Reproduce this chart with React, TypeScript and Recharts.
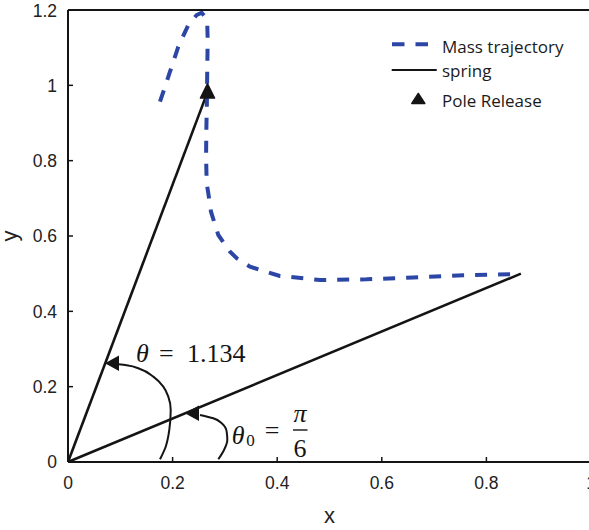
import React from 'react'
import { ComposedChart, Line, Scatter, XAxis, YAxis, Legend } from 'recharts'

// mass trajectory (x, y)
const trajX = [0.1759, 0.1950, 0.2109, 0.2300, 0.2461, 0.2556, 0.2620, 0.2663, 0.2671, 0.2663, 0.2655, 0.2645, 0.2640, 0.2652, 0.2683, 0.2734, 0.2874, 0.3098, 0.3226, 0.3480, 0.405, 0.482, 0.571, 0.660, 0.756, 0.866]
const trajY = [0.9565, 1.0362, 1.1026, 1.1602, 1.1867, 1.1928, 1.1822, 1.1602, 1.1203, 1.0495, 0.950, 0.880, 0.810, 0.740, 0.7133, 0.6645, 0.6026, 0.5583, 0.5408, 0.5185, 0.494, 0.483, 0.485, 0.490, 0.496, 0.499]

// springs: from the pivot to the mass
const springReleaseX = [0, 0.2667]
const springReleaseY = [0, 0.982]
const springInitialX = [0, 0.866]
const springInitialY = [0, 0.5]

const releaseX = [0.2667]
const releaseY = [0.982]

// angle arcs
const arcThetaX = [0.1759, 0.1868, 0.1937, 0.1964, 0.1918, 0.1822, 0.1631, 0.1377, 0.1122, 0.0962]
const arcThetaY = [0.0072, 0.0406, 0.0850, 0.1380, 0.1734, 0.1999, 0.2265, 0.2469, 0.2567, 0.2594]
const arcTheta0X = [0.2874, 0.2983, 0.3046, 0.3034, 0.2939, 0.2778, 0.2524]
const arcTheta0Y = [0.0072, 0.0319, 0.0584, 0.0804, 0.1027, 0.1160, 0.1248]

// arrow tips and label anchors
const arrowX = [0.0707, 0.2237]
const arrowY = [0.2620, 0.1293]
const labelThetaAt = { x: 0.1300, y: 0.2648 }
const labelTheta0At = { x: 0.3130, y: 0.0478 }

const xTicks = [0, 0.2, 0.4, 0.6, 0.8, 1]
const yTicks = [0, 0.2, 0.4, 0.6, 0.8, 1, 1.2]

const zip = (xs: number[], ys: number[]) => xs.map((x, i) => ({ x, y: ys[i] }))

const traj = zip(trajX, trajY)
const springRelease = zip(springReleaseX, springReleaseY)
const springInitial = zip(springInitialX, springInitialY)
const release = zip(releaseX, releaseY)
const arcTheta = zip(arcThetaX, arcThetaY)
const arcTheta0 = zip(arcTheta0X, arcTheta0Y)
const arrows = zip(arrowX, arrowY)

const BLUE = '#2c46a6'
const INK = '#141414'
const TICK_FONT = { fontSize: 17.5, fill: '#222', fontFamily: '"Liberation Sans", Arial, sans-serif' }
const MATH_FONT = '"Liberation Serif", "Times New Roman", serif'
const LEGEND_FONT = '"Open Sans", sans-serif'

const ReleaseMarker = ({ cx, cy }: any) => (
  <path
    d={`M${cx},${cy - 8.5} L${cx + 7.2},${cy + 6} L${cx - 7.2},${cy + 6} Z`}
    fill={INK}
    stroke={INK}
    strokeWidth={1.2}
    strokeLinejoin="round"
  />
)

// arrowhead with its tip at the point, pointing left
const ArrowHead = ({ cx, cy }: any) => (
  <path d={`M${cx},${cy} L${cx + 14},${cy - 7.8} L${cx + 14},${cy + 7.8} Z`} fill={INK} />
)

const ThetaLabel = ({ cx, cy }: any) => (
  <g fontFamily={MATH_FONT} fontSize={26} fill={INK}>
    <text x={cx} y={cy} fontStyle="italic">θ</text>
    <text x={cx + 23} y={cy}>=</text>
    <text x={cx + 51} y={cy}>1.134</text>
  </g>
)

const Theta0Label = ({ cx, cy }: any) => (
  <g fontFamily={MATH_FONT} fontSize={26} fill={INK}>
    <text x={cx} y={cy} fontStyle="italic">θ</text>
    <text x={cx + 14.5} y={cy + 2} fontSize={17}>0</text>
    <text x={cx + 33} y={cy - 4.5}>=</text>
    <text x={cx + 68.3} y={cy - 22.3} textAnchor="middle" fontStyle="italic">π</text>
    <line x1={cx + 61.3} x2={cx + 75.8} y1={cy - 14} y2={cy - 14} stroke={INK} strokeWidth={1.4} />
    <text x={cx + 68.3} y={cy + 12.7} textAnchor="middle">6</text>
  </g>
)

const LegendBox = () => (
  <svg width={200} height={90} style={{ display: 'block' }}>
    <line x1={4} x2={41} y1={14.3} y2={14.3} stroke={BLUE} strokeWidth={4} strokeDasharray="12.5 11" />
    <line x1={3.7} x2={48.7} y1={40} y2={40} stroke={INK} strokeWidth={2} />
    <path d="M30.3,63.5 L36.8,73.5 L23.8,73.5 Z" fill={INK} stroke={INK} strokeWidth={1.5} strokeLinejoin="round" />
    <g fontFamily={LEGEND_FONT} fontSize={17} fill="#1a1a1a">
      <text x={54} y={22.7}>Mass trajectory</text>
      <text x={54} y={47.3}>spring</text>
      <text x={54} y={77.3}>Pole Release</text>
    </g>
  </svg>
)

const YTitle = ({ viewBox }: any) => {
  const x = viewBox.x + 17
  const y = viewBox.y + viewBox.height / 2
  return (
    <text x={x} y={y} transform={`rotate(-90 ${x} ${y})`} textAnchor="middle" fontSize={22} fill="#222" fontFamily={TICK_FONT.fontFamily}>
      y
    </text>
  )
}

export default function App() {
  const axisLine = { stroke: INK, strokeWidth: 2 }
  const tickLine = { stroke: INK, strokeWidth: 1.5 }
  return (
    <div style={{ position: 'absolute', left: 0, top: 0, width: 589, height: 530, overflow: 'hidden', background: '#fff' }}>
      <ComposedChart width={600} height={530} margin={{ top: 9, right: 8, left: 0, bottom: 0 }}>
        <XAxis
          xAxisId={0}
          dataKey="x"
          type="number"
          domain={[0, 1]}
          ticks={xTicks}
          allowDataOverflow
          height={68}
          tickSize={-5}
          tickMargin={20}
          tick={TICK_FONT}
          axisLine={axisLine}
          tickLine={tickLine}
          label={{ value: 'x', position: 'insideBottom', offset: 7, fontSize: 22, fill: '#222', fontFamily: TICK_FONT.fontFamily }}
        />
        {/* top and right edges of the box */}
        <XAxis
          xAxisId="top"
          dataKey="x"
          orientation="top"
          type="number"
          domain={[0, 1]}
          ticks={xTicks}
          allowDataOverflow
          height={1}
          tickSize={-5}
          tick={false}
          axisLine={axisLine}
          tickLine={tickLine}
        />
        <YAxis
          yAxisId={0}
          dataKey="y"
          type="number"
          domain={[0, 1.2]}
          ticks={yTicks}
          allowDataOverflow
          width={68}
          tickSize={-5}
          tickMargin={16}
          tick={TICK_FONT}
          axisLine={axisLine}
          tickLine={tickLine}
          label={{ content: YTitle }}
        />
        <YAxis
          yAxisId="right"
          dataKey="y"
          orientation="right"
          type="number"
          domain={[0, 1.2]}
          ticks={yTicks}
          allowDataOverflow
          width={1}
          tickSize={-5}
          tick={false}
          axisLine={axisLine}
          tickLine={tickLine}
        />
        <Legend
          layout="vertical"
          align="center"
          verticalAlign="middle"
          wrapperStyle={{ top: 30, left: 388, width: 200 }}
          content={() => <LegendBox />}
        />

        <Line data={springRelease} dataKey="y" type="linear" stroke={INK} strokeWidth={2.6} dot={false} activeDot={false} isAnimationActive={false} />
        <Line data={springInitial} dataKey="y" type="linear" stroke={INK} strokeWidth={2.6} dot={false} activeDot={false} isAnimationActive={false} />
        {/* same spring drawn invisibly on the box axes so they render */}
        <Line data={springInitial} dataKey="y" xAxisId="top" yAxisId="right" stroke="none" dot={false} activeDot={false} legendType="none" isAnimationActive={false} />
        <Line data={arcTheta} dataKey="y" type="monotoneY" stroke={INK} strokeWidth={2} dot={false} activeDot={false} isAnimationActive={false} />
        <Line data={arcTheta0} dataKey="y" type="monotoneY" stroke={INK} strokeWidth={2} dot={false} activeDot={false} isAnimationActive={false} />
        <Line
          data={traj}
          dataKey="y"
          type="linear"
          stroke={BLUE}
          strokeWidth={4}
          strokeDasharray="12 11"
          dot={false}
          activeDot={false}
          isAnimationActive={false}
        />
        <Scatter data={arrows} shape={<ArrowHead />} isAnimationActive={false} />
        <Scatter data={release} shape={<ReleaseMarker />} isAnimationActive={false} />
        <Scatter data={[labelThetaAt]} shape={<ThetaLabel />} isAnimationActive={false} />
        <Scatter data={[labelTheta0At]} shape={<Theta0Label />} isAnimationActive={false} />
      </ComposedChart>
    </div>
  )
}
